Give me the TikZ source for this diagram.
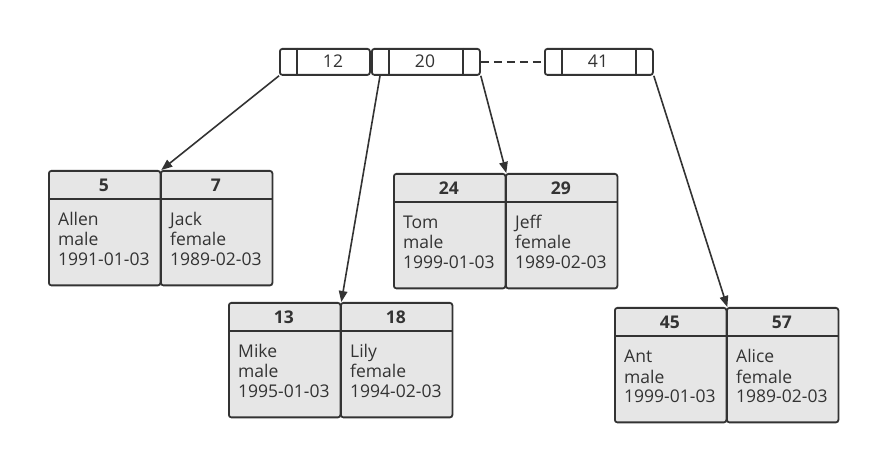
\documentclass[tikz,border=0pt]{standalone}
\usepackage{fontspec}
\setmainfont{Open Sans}
\usetikzlibrary{arrows.meta}
\definecolor{ink}{HTML}{333333}
\definecolor{cellgray}{HTML}{E6E6E6}
\begin{document}
\begin{tikzpicture}[x=1pt,y=-1pt,
    every node/.style={font=\fontsize{17.5}{20}\selectfont, text=ink},
    keybox/.style={draw=ink, fill=white, line width=1.8pt, rounded corners=2.5pt, minimum height=26pt, inner sep=0pt, anchor=north west},
    leafcell/.style={draw=ink, fill=cellgray, line width=1.8pt, rounded corners=2.5pt, minimum width=111.5pt, minimum height=114.5pt, inner sep=0pt, anchor=north west},
    link/.style={draw=ink, line width=1.6pt, -{Triangle[length=11pt,width=8.5pt]}}]
        \fill[white] (0,0) rectangle (871,454);
        \useasboundingbox (0,0) rectangle (871,454);
        % keys of the root page
        \node[keybox, minimum width=90pt] (key12) at (279,48) {};
        \draw[ink, line width=1.8pt] ([xshift=18pt]key12.north west) -- ([xshift=18pt]key12.south west);
        \node (t12) at (333,61) {12};
        \node[keybox, minimum width=108pt] (key20) at (371,48) {};
        \draw[ink, line width=1.8pt] ([xshift=18pt]key20.north west) -- ([xshift=18pt]key20.south west);
        \draw[ink, line width=1.8pt] ([xshift=-18pt]key20.north east) -- ([xshift=-18pt]key20.south east);
        \node (t20) at (425,61) {20};
        \node[keybox, minimum width=108pt] (key41) at (544,48) {};
        \draw[ink, line width=1.8pt] ([xshift=18pt]key41.north west) -- ([xshift=18pt]key41.south west);
        \draw[ink, line width=1.8pt] ([xshift=-18pt]key41.north east) -- ([xshift=-18pt]key41.south east);
        \node (t41) at (598,61) {41};
        \draw[ink, line width=1.8pt, dash pattern=on 8pt off 5pt] (key20.east) -- (key41.west);
        % leaf pages
        \foreach \id/\x/\y/\person/\sex/\born in {5/48/170/Allen/male/1991-01-03, 7/160/170/Jack/female/1989-02-03,
                24/393/173/Tom/male/1999-01-03, 29/505/173/Jeff/female/1989-02-03,
                13/228/302/Mike/male/1995-01-03, 18/340/302/Lily/female/1994-02-03,
                45/614/307/Ant/male/1999-01-03, 57/726/307/Alice/female/1989-02-03} {
            \node[leafcell] (leaf\id) at (\x,\y) {};
            \draw[ink, line width=1.8pt] ([yshift=-29pt]leaf\id.north west) -- ([yshift=-29pt]leaf\id.north east);
            \node[font=\fontsize{17.5}{20}\selectfont\bfseries] (head\id) at (\x+55.75,\y+15) {\id};
            \node[anchor=base west, align=left, inner sep=0pt] (info\id) at (\x+10,\y+96) {\person\\\sex\\\born};
        }
        \coordinate (ptr20) at ([xshift=9pt]key20.south west);
        \draw[link] (key12.south west) -- (leaf5.north east);
        \draw[link] (ptr20) -- (leaf13.north east);
        \draw[link] (key20.south east) -- (leaf24.north east);
        \draw[link] (key41.south east) -- (leaf45.north east);
    \end{tikzpicture}
\end{document}
